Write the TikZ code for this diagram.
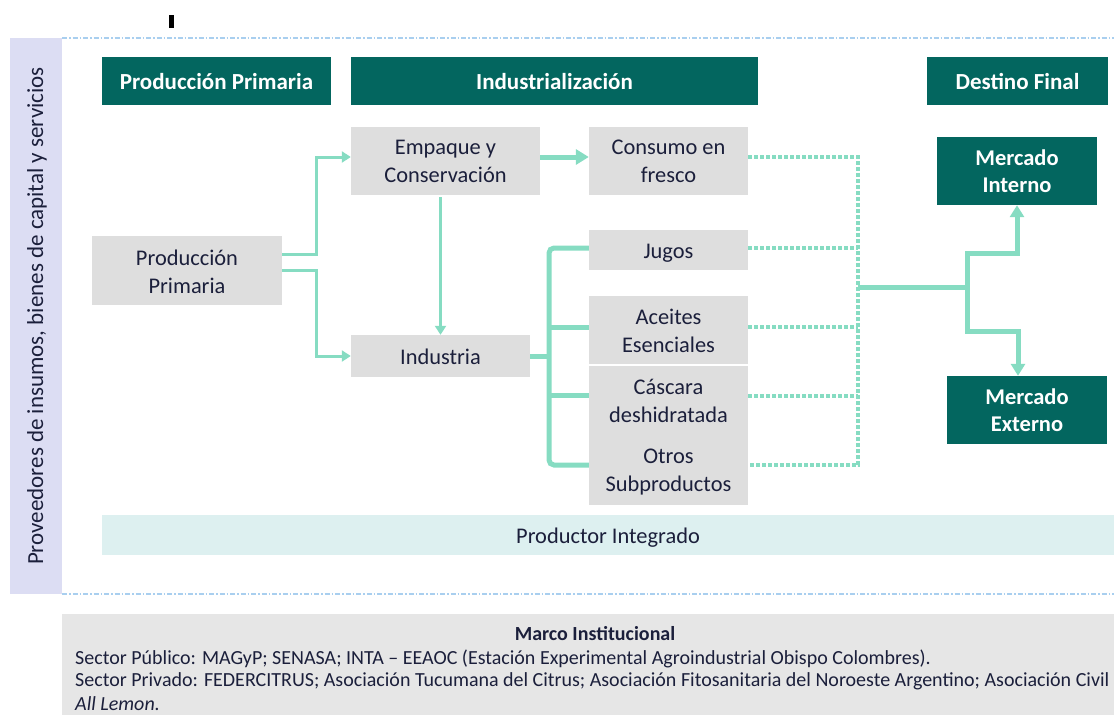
\documentclass[tikz,border=0pt]{standalone}
\usepackage{fontspec}
\setmainfont{Carlito}
\usetikzlibrary{arrows.meta,calc}
\definecolor{teal}{HTML}{03665F}
\definecolor{mint}{HTML}{86DCC2}
\definecolor{boxgray}{HTML}{DEDEDE}
\definecolor{lav}{HTML}{DCDDF3}
\definecolor{pint}{HTML}{DDF0F0}
\definecolor{marco}{HTML}{E6E6E6}
\definecolor{dashblue}{HTML}{A9CFEF}
\definecolor{txt}{HTML}{1B1F3B}
\newcommand{\lowtxt}[2][3pt]{\raisebox{-#1}[\height][\depth]{\begin{tabular}{@{}c@{}}#2\end{tabular}}}
\tikzset{
  hdr/.style={fill=teal, text=white, font=\fontsize{23}{27}\selectfont\bfseries, inner sep=0pt, align=center},
  gbox/.style={fill=boxgray, text=txt, font=\fontsize{22.4}{28}\selectfont, inner sep=0pt, align=center},
  tbox/.style={fill=teal, text=white, font=\fontsize{22.5}{27}\selectfont\bfseries, inner sep=0pt, align=center},
  thinflow/.style={draw=mint, line width=3pt, -{Triangle[length=9pt,width=11pt]}},
  thickflow/.style={draw=mint, line width=5pt},
  dotflow/.style={draw=mint, line width=4pt, dash pattern=on 4pt off 2pt},
  sep/.style={draw=dashblue, line width=1.2pt, dash pattern=on 5pt off 2pt on 1.5pt off 2pt},
  mtext/.style={font=\fontsize{20}{22}\selectfont, text=txt, anchor=west, inner sep=0pt},
}
\begin{document}
\begin{tikzpicture}[x=1pt,y=-1pt]
\useasboundingbox (0,0) rectangle (1114,715);
% tick mark
\fill[black] (169,15) rectangle (174,28);
% side column
\fill[lav] (10,38) rectangle (62,594);
\node[rotate=90, text=txt, font=\fontsize{23}{27}\selectfont] (side) at (37,316) {Proveedores de insumos, bienes de capital y servicios};
\draw[sep] (62,38) -- (1114,38);
\draw[sep] (62,594) -- (1114,594);
% headers
\node[hdr, minimum width=229pt, minimum height=48pt] (hpp) at (216.5,81) {\lowtxt[3.5pt]{Producción Primaria}};
\node[hdr, minimum width=407pt, minimum height=48pt] (hind) at (554.5,81) {\lowtxt[3.5pt]{Industrialización}};
\node[hdr, minimum width=181pt, minimum height=48pt] (hdest) at (1017.5,81) {\lowtxt[3.5pt]{Destino Final}};
% gray boxes
\node[gbox, minimum width=190pt, minimum height=69pt] (pp) at (187,270.5) {\lowtxt{Producción\\Primaria}};
\node[gbox, minimum width=189pt, minimum height=68pt] (emp) at (445.5,161) {\lowtxt[2pt]{Empaque y\\Conservación}};
\node[gbox, minimum width=159pt, minimum height=68pt] (cons) at (668.5,161) {\lowtxt[2pt]{Consumo en\\fresco}};
\node[gbox, minimum width=179pt, minimum height=42pt] (ind) at (440.5,356) {\lowtxt[3pt]{Industria}};
\node[gbox, minimum width=159pt, minimum height=40pt] (jug) at (668.5,250) {\lowtxt{Jugos}};
\node[gbox, minimum width=159pt, minimum height=68pt] (ace) at (668.5,330) {\lowtxt[2.5pt]{Aceites\\Esenciales}};
\node[gbox, minimum width=159pt, minimum height=69pt] (cas) at (668.5,400.5) {\lowtxt[2.5pt]{Cáscara\\deshidratada}};
\node[gbox, minimum width=159pt, minimum height=71pt] (otr) at (668.5,469) {\lowtxt[3pt]{Otros\\Subproductos}};
% destination boxes
\node[tbox, minimum width=160pt, minimum height=68pt] (mi) at (1017,171) {\lowtxt[3pt]{Mercado\\Interno}};
\node[tbox, minimum width=160pt, minimum height=68pt] (me) at (1027,410) {\lowtxt[3pt]{Mercado\\Externo}};
% productor integrado
\node[fill=pint, text=txt, font=\fontsize{22.4}{26}\selectfont, minimum width=1012pt, minimum height=40pt, inner sep=0pt] (pi) at (608,535) {\lowtxt[3.5pt]{Productor Integrado}};
% marco institucional
\fill[marco] (62,614) rectangle (1114,715);
\node[font=\fontsize{20}{22}\selectfont\bfseries, text=txt] (mt) at (595,634) {Marco Institucional};
\node[mtext] (m1) at (75,658.5) {Sector Público: MAGyP; SENASA; INTA – EEAOC (Estación Experimental Agroindustrial Obispo Colombres).};
\node[mtext] (m2) at (75,681.5) {Sector Privado: FEDERCITRUS; Asociación Tucumana del Citrus; Asociación Fitosanitaria del Noroeste Argentino; Asociación Civil};
\node[mtext, font=\fontsize{20}{22}\selectfont\itshape] (m3) at (75,703.5) {All Lemon.};
% connectors
\coordinate (sp) at (316,0);
\draw[thinflow] ([yshift=16pt]pp.east) -- ([yshift=16pt]pp.east -| sp) |- ([yshift=4pt]emp.west);
\draw[thinflow] (pp.east) -- (pp.east -| sp) |- (ind.west);
\draw[thinflow] (emp.south -| ind.north) ++(0,2) -- (ind.north);
\draw[thickflow, -{Triangle[length=13pt,width=15pt]}] ([yshift=4pt]emp.east) -- ([yshift=4pt]cons.west);
\coordinate (bx) at (549,0);
\draw[thickflow, rounded corners=5pt] ([yshift=2pt]jug.west) -- ([yshift=2pt]jug.west -| bx) -- ([yshift=4pt]otr.west -| bx) -- ([yshift=4pt]otr.west);
\draw[thickflow] (ind.east) -- (ind.east -| bx);
\draw[thickflow] ([yshift=3pt]ace.west) -- ([yshift=3pt]ace.west -| bx);
\draw[thickflow] ([yshift=5pt]cas.west) -- ([yshift=5pt]cas.west -| bx);
% dotted
\coordinate (dx) at (858,0);
\draw[dotflow] ([yshift=4pt]cons.east) -- ([yshift=4pt]cons.east -| dx) -- ([yshift=4pt]otr.east -| dx) -- ([yshift=4pt]otr.east);
\draw[dotflow] ([yshift=2pt]jug.east) -- ([yshift=2pt]jug.east -| dx);
\draw[dotflow] ([yshift=3pt]ace.east) -- ([yshift=3pt]ace.east -| dx);
\draw[dotflow] ([yshift=5pt]cas.east) -- ([yshift=5pt]cas.east -| dx);
% to markets
\coordinate (jx) at (858,287);
\coordinate (sx) at (967,287);
\coordinate (up) at (967,253);
\coordinate (dn) at (967,331);
\draw[thickflow] (jx) -- (sx);
\draw[thickflow, -{Triangle[length=12pt,width=14pt]}] (sx) -- (up) -| (mi.south);
\draw[thickflow, -{Triangle[length=12pt,width=14pt]}] (sx) -- (dn) -| ([xshift=-9pt]me.north);
\end{tikzpicture}
\end{document}
